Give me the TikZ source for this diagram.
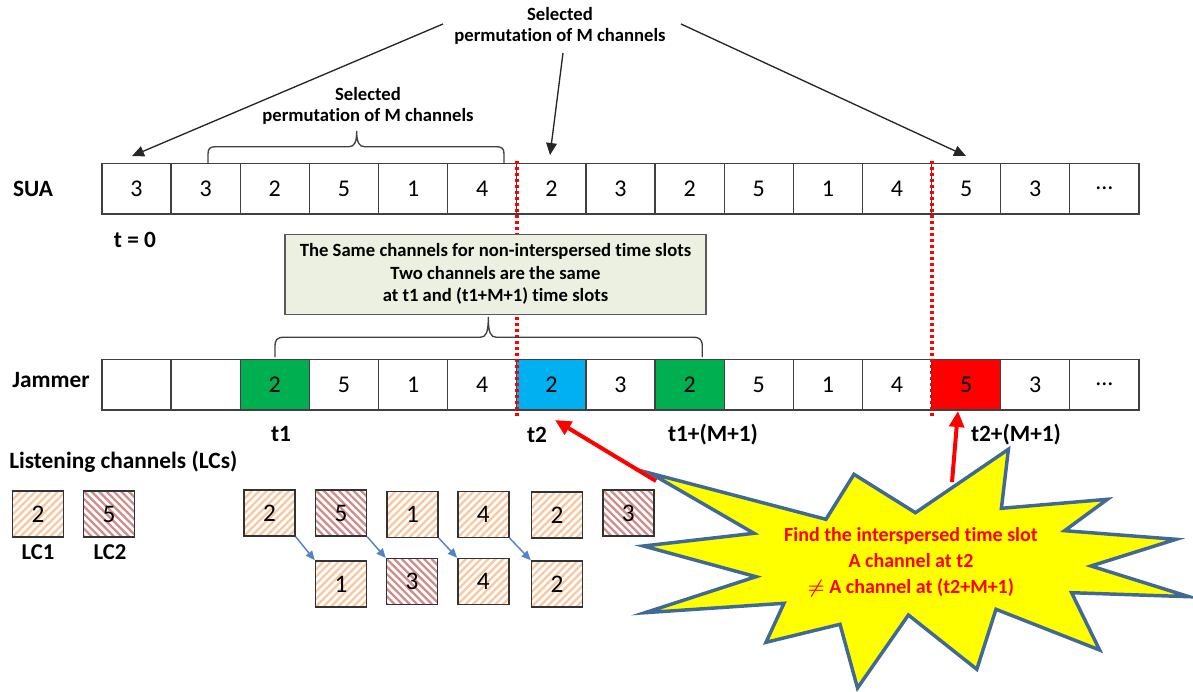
\documentclass[tikz,border=0pt]{standalone}
\usepackage{fontspec}
\setmainfont{Carlito}[Ligatures=NoCommon]
\usetikzlibrary{arrows.meta}
\definecolor{cellline}{RGB}{64,64,64}
\definecolor{jgreen}{RGB}{0,176,80}
\definecolor{jblue}{RGB}{0,176,240}
\definecolor{jred}{RGB}{255,0,0}
\definecolor{notefill}{RGB}{236,240,224}
\definecolor{noteline}{RGB}{90,90,90}
\definecolor{hatchO}{RGB}{250,200,160}
\definecolor{hatchR}{RGB}{208,140,138}
\definecolor{lcarrow}{RGB}{84,132,200}
\definecolor{starline}{RGB}{65,105,150}
\definecolor{staryellow}{RGB}{255,255,0}
\begin{document}
\begin{tikzpicture}[x=0.75pt,y=-0.75pt,
  cell/.style={draw=cellline,line width=1pt,minimum width=51.85pt,minimum height=38pt,
    inner sep=0pt,outer sep=0pt,font=\fontsize{18}{21}\selectfont},
  lbl/.style={font=\fontsize{17.5}{21}\selectfont\bfseries,inner sep=0pt},
  sel/.style={font=\fontsize{14}{16}\selectfont\bfseries,align=center,inner sep=0pt},
  blackarr/.style={draw=black!85,line width=1pt,-{Triangle[length=9pt,width=8pt]}},
  redarr/.style={draw=jred,line width=3pt,-{Triangle[length=12pt,width=11pt]}},
  reddots/.style={draw=jred,line width=2.8pt,dash pattern=on 2.6pt off 1.9pt},
  bracepath/.style={draw=cellline,line width=1pt},
  lcbox/.style={draw=black!80,line width=1.1pt,minimum width=38.25pt,minimum height=34.5pt,
    inner sep=0pt,font=\fontsize{19}{22}\selectfont},
  lcO/.style={lcbox,path picture={
    \foreach \k in {-9,...,8}
      \draw[hatchO,line width=1.7pt]
        ([xshift=\k*5.6pt]path picture bounding box.south west) -- ++(50,-50);}},
  lcR/.style={lcbox,path picture={
    \foreach \k in {-9,...,8}
      \draw[hatchR,line width=1.7pt]
        ([xshift=\k*5.6pt]path picture bounding box.north west) -- ++(50,50);}},
  lcarr/.style={draw=lcarrow,line width=1.1pt,-{Triangle[length=7pt,width=6pt]}},
]
\useasboundingbox (0,0) rectangle (1193,692);

% --- SUA row ---
\node[lbl] (sua) at (33,188.5) {SUA};
\foreach \v [count=\i from 0] in {3,3,2,5,1,4,2,3,2,5,1,4,5,3}
  \node[cell] (s\i) at ({102+(\i+0.5)*69.13},188.5) {\v};
\node[cell] (s14) at ({102+14.5*69.13},188.5) {...};
\node[lbl] (tzero) at (135,240) {t = 0};

% --- Jammer row ---
\node[lbl] (jam) at (51,380) {Jammer};
\node[cell] (j0) at ({102+0.5*69.13},384.7) {};
\node[cell] (j1) at ({102+1.5*69.13},384.7) {};
\foreach \v/\f [count=\i from 2] in {2/jgreen,5/white,1/white,4/white,
    2/jblue,3/white,2/jgreen,5/white,1/white,4/white,5/jred,3/white}
  \node[cell,fill=\f] (j\i) at ({102+(\i+0.5)*69.13},384.7) {\v};
\node[cell] (j14) at ({102+14.5*69.13},384.7) {...};

% --- time slot markers ---
\coordinate (dA1) at (516.7,161);
\coordinate (dA2) at (516.7,417);
\coordinate (dB1) at (931.7,161);
\coordinate (dB2) at (931.7,416);
\draw[reddots] (dA1) -- (dA2);
\draw[reddots] (dB1) -- (dB2);

\node[lbl] (t1) at (281,434) {t1};
\node[lbl] (t2) at (537,435) {t2};
\node[lbl] (t1m) at (713,435) {t1+(M+1)};
\node[lbl] (t2m) at (1016,435) {t2+(M+1)};

% --- permutation labels and arrows ---
\node[sel] (topsel) at (560,26) {Selected\\permutation of M channels};
\node[sel] (midsel) at (368,106) {Selected\\permutation of M channels};

\coordinate (aL0) at (443,24);   \coordinate (aL1) at (132,156);
\coordinate (aM0) at (563,53);   \coordinate (aM1) at (550,155);
\coordinate (aR0) at (681,24);   \coordinate (aR1) at (966,156);
\draw[blackarr] (aL0) -- (aL1);
\draw[blackarr] (aM0) -- (aM1);
\draw[blackarr] (aR0) -- (aR1);

% brace over the SUA permutation
\draw[bracepath] (208,163) -- (208,154) .. controls (208,148.5) and (210,146.7) .. (216,146.7)
  -- (349,146.7) .. controls (354.5,146.7) and (356.7,142) .. (356.7,131)
  .. controls (356.7,142) and (358.9,146.7) .. (364.4,146.7)
  -- (496,146.7) .. controls (502,146.7) and (504,148.5) .. (504,154) -- (504,163);

% brace over the jammer slots
\draw[bracepath] (275,357) -- (275,347) .. controls (275,339.5) and (277,337.3) .. (284,337.3)
  -- (480,337.3) .. controls (486,337.3) and (488.3,333) .. (488.3,317)
  .. controls (488.3,333) and (490.6,337.3) .. (496.6,337.3)
  -- (693,337.3) .. controls (700,337.3) and (702.3,339.5) .. (702.3,347) -- (702.3,357);

% note box
\node[draw=noteline,fill=notefill,line width=1pt,minimum width=315.75pt,minimum height=60pt,
  align=center,inner sep=0pt,font=\fontsize{14}{16.9}\selectfont\bfseries] (note) at (495.5,274.2)
  {The Same channels for non-interspersed time slots\\Two channels are the same\\at t1 and (t1+M+1) time slots};

% --- listening channels ---
\node[lbl,anchor=west] (lch) at (9,462) {Listening channels (LCs)};
\node[lcO] (lc1) at (38,514) {2};
\node[lcR] (lc2) at (109,514) {5};
\node[font=\fontsize{17}{20}\selectfont\bfseries,inner sep=0pt] (lc1t) at (38,552) {LC1};
\node[font=\fontsize{17}{20}\selectfont\bfseries,inner sep=0pt] (lc2t) at (110,552) {LC2};

\node[lcO] (b1) at (269.5,513) {2};
\node[lcR] (b2) at (341,513) {5};
\node[lcO] (b3) at (412.5,514.3) {1};
\node[lcO] (b4) at (483.3,514.3) {4};
\node[lcO] (b5) at (557,515) {2};
\node[lcR] (b6) at (628.3,513) {3};
\node[lcO] (c1) at (341,584) {1};
\node[lcR] (c2) at (412,581.7) {3};
\node[lcO] (c3) at (483.3,581.5) {4};
\node[lcO] (c4) at (557,584) {2};
\draw[lcarr] (b1.south east) -- (c1.north west);
\draw[lcarr] (b2.south east) -- (c2.north west);
\draw[lcarr] (b3.south east) -- (c3.north west);
\draw[lcarr] (b4.south east) -- (c4.north west);

% --- explosion callout ---
\draw[draw=starline,fill=staryellow,line width=2.6pt,line join=miter,miter limit=20]
  (650.5,473.3) -- (826,519.3) -- (854,474.3) -- (915.4,512.7) -- (1008.4,449.3)
  -- (1001.4,508.3) -- (1107.4,499.3) -- (1064.6,530.7) -- (1176,539.3) -- (1091,566)
  -- (1189,596.7) -- (1071.6,592.7) -- (1099.6,650) -- (996,609.3) -- (976.8,669.3)
  -- (908.4,615) -- (857.5,688) -- (840,624.3) -- (766,642.3) -- (784,603.3)
  -- (645,612.7) -- (756,576.7) -- (643.5,546) -- (754,533.3) -- cycle;
\node[align=center,text=jred,inner sep=0pt,font=\fontsize{15}{19.5}\selectfont\bfseries]
  (startext) at (911,562)
  {Find the interspersed time slot\\A channel at t2\\{\boldmath$\neq$} A channel at (t2+M+1)};

\coordinate (rA0) at (656,481);  \coordinate (rA1) at (555,420);
\coordinate (rB0) at (952,482);  \coordinate (rB1) at (958,411);
\draw[redarr] (rA0) -- (rA1);
\draw[redarr] (rB0) -- (rB1);
\end{tikzpicture}
\end{document}
